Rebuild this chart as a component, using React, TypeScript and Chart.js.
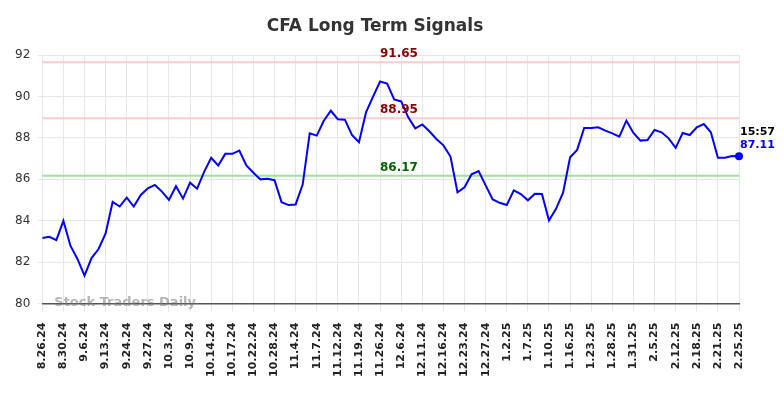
import React, { useEffect, useRef } from "react";
import { Chart, registerables } from "chart.js";

Chart.register(...registerables);

const TITLE = "CFA Long Term Signals";
const tickLabels = [
  "8.26.24", "8.30.24", "9.6.24", "9.13.24", "9.24.24", "9.27.24", "10.3.24", "10.9.24",
  "10.14.24", "10.17.24", "10.22.24", "10.28.24", "11.4.24", "11.7.24", "11.12.24", "11.19.24",
  "11.26.24", "12.6.24", "12.11.24", "12.16.24", "12.23.24", "12.27.24", "1.2.25", "1.7.25",
  "1.10.25", "1.16.25", "1.23.25", "1.28.25", "1.31.25", "2.5.25", "2.12.25", "2.18.25",
  "2.21.25", "2.25.25",
];
const values = [
  83.17, 83.23, 83.07, 84.0, 82.8, 82.16, 81.36, 82.2, 82.64, 83.39,
  84.91, 84.69, 85.12, 84.69, 85.25, 85.57, 85.73, 85.41, 85.01, 85.67,
  85.07, 85.84, 85.55, 86.36, 87.04, 86.67, 87.23, 87.23, 87.39, 86.67,
  86.32, 86.0, 86.03, 85.96, 84.9, 84.76, 84.79, 85.75, 88.22, 88.11,
  88.83, 89.31, 88.9, 88.88, 88.14, 87.79, 89.23, 89.99, 90.72, 90.62,
  89.86, 89.76, 88.99, 88.46, 88.65, 88.32, 87.95, 87.64, 87.1, 85.38,
  85.62, 86.24, 86.4, 85.71, 85.03, 84.87, 84.76, 85.47, 85.29, 84.99,
  85.31, 85.29, 84.02, 84.58, 85.36, 87.07, 87.42, 88.48, 88.48, 88.51,
  88.35, 88.22, 88.06, 88.83, 88.24, 87.87, 87.9, 88.38, 88.27, 87.98,
  87.52, 88.24, 88.14, 88.51, 88.67, 88.27, 87.04, 87.04, 87.13, 87.11,
];
const thresholdValues = [91.65, 88.95, 86.17];
const thresholdLineColors = ["#ffcccc", "#ffcccc", "#99e699"];
const thresholdTextColors = ["#8b0000", "#8b0000", "#006400"];
const lastTime = "15:57";
const yTicks = [80, 82, 84, 86, 88, 90, 92];
const FONT = "'DejaVu Sans', sans-serif";

const overlay = {
  id: "overlay",
  beforeDatasetsDraw(chart: any) {
    const { ctx, chartArea, scales } = chart;
    const y = scales.y;
    ctx.save();
    thresholdValues.forEach((v, i) => {
      const py = y.getPixelForValue(v);
      ctx.strokeStyle = thresholdLineColors[i];
      ctx.lineWidth = 2;
      ctx.beginPath();
      ctx.moveTo(chartArea.left, py);
      ctx.lineTo(chartArea.right, py);
      ctx.stroke();
    });
    ctx.restore();
  },
  afterDatasetsDraw(chart: any) {
    const { ctx, chartArea, scales } = chart;
    const x = scales.x;
    const y = scales.y;
    ctx.save();
    ctx.font = `bold 12px ${FONT}`;
    ctx.textAlign = "center";
    ctx.textBaseline = "middle";
    const cx = chartArea.left + (chartArea.right - chartArea.left) * 0.512;
    thresholdValues.forEach((v, i) => {
      ctx.fillStyle = thresholdTextColors[i];
      ctx.fillText(v.toFixed(2), cx, y.getPixelForValue(v) - 8);
    });
    ctx.font = `bold 13px ${FONT}`;
    ctx.fillStyle = "rgba(120,120,120,0.55)";
    ctx.textAlign = "left";
    ctx.textBaseline = "middle";
    ctx.fillText("Stock Traders Daily", chartArea.left + 12, chartArea.bottom - 1);
    const li = values.length - 1;
    const px = x.getPixelForValue(li);
    const py = y.getPixelForValue(values[li]);
    ctx.fillStyle = "#0000ff";
    ctx.beginPath();
    ctx.arc(px, py, 4, 0, Math.PI * 2);
    ctx.fill();
    ctx.font = `bold 11px ${FONT}`;
    ctx.textAlign = "left";
    ctx.fillStyle = "#000";
    ctx.fillText(lastTime, px + 1, py - 24);
    ctx.fillStyle = "#0000ff";
    ctx.fillText(values[li].toFixed(2), px + 1, py - 11);
    ctx.font = `bold 17px ${FONT}`;
    ctx.fillStyle = "#333333";
    ctx.textAlign = "center";
    ctx.fillText(TITLE, chart.width / 2 - 17, 27);
    ctx.restore();
  },
};

export default function App() {
  const ref = useRef<HTMLCanvasElement>(null);
  useEffect(() => {
    document.body.style.margin = "0";
    const chart = new Chart(ref.current!, {
      type: "line",
      data: {
        datasets: [
          {
            data: values.map((v, i) => ({ x: i, y: v })),
            borderColor: "#0000ff",
            borderWidth: 2,
            pointRadius: 0,
            tension: 0,
            fill: false,
          },
        ],
      },
      options: {
        responsive: false,
        animation: false,
        layout: { padding: { top: 55, right: 45, left: 7, bottom: 10 } },
        plugins: { legend: { display: false }, tooltip: { enabled: false } },
        scales: {
          x: {
            type: "linear",
            min: 0,
            max: values.length - 1,
            afterBuildTicks: (scale: any) => {
              scale.ticks = tickLabels.map((_, i) => ({ value: i * 3 }));
            },
            ticks: {
              autoSkip: false,
              maxRotation: 90,
              minRotation: 90,
              padding: 11,
              color: "#222",
              font: { family: FONT, size: 11, weight: "bold" },
              callback: (v: any) => tickLabels[Math.round(v / 3)] ?? "",
            },
            grid: { color: "#e6e6e6", tickLength: 8 },
            border: { color: "#555", width: 1.5 },
          },
          y: {
            min: 80,
            max: 92,
            afterBuildTicks: (scale: any) => {
              scale.ticks = yTicks.map((v) => ({ value: v }));
            },
            ticks: {
              padding: 8,
              color: "#333",
              font: { family: FONT, size: 12 },
            },
            grid: { color: "#e6e6e6", tickLength: 4 },
            border: { display: false },
          },
        },
      },
      plugins: [overlay],
    } as any);
    return () => chart.destroy();
  }, []);
  return <canvas ref={ref} width={784} height={398} />;
}
